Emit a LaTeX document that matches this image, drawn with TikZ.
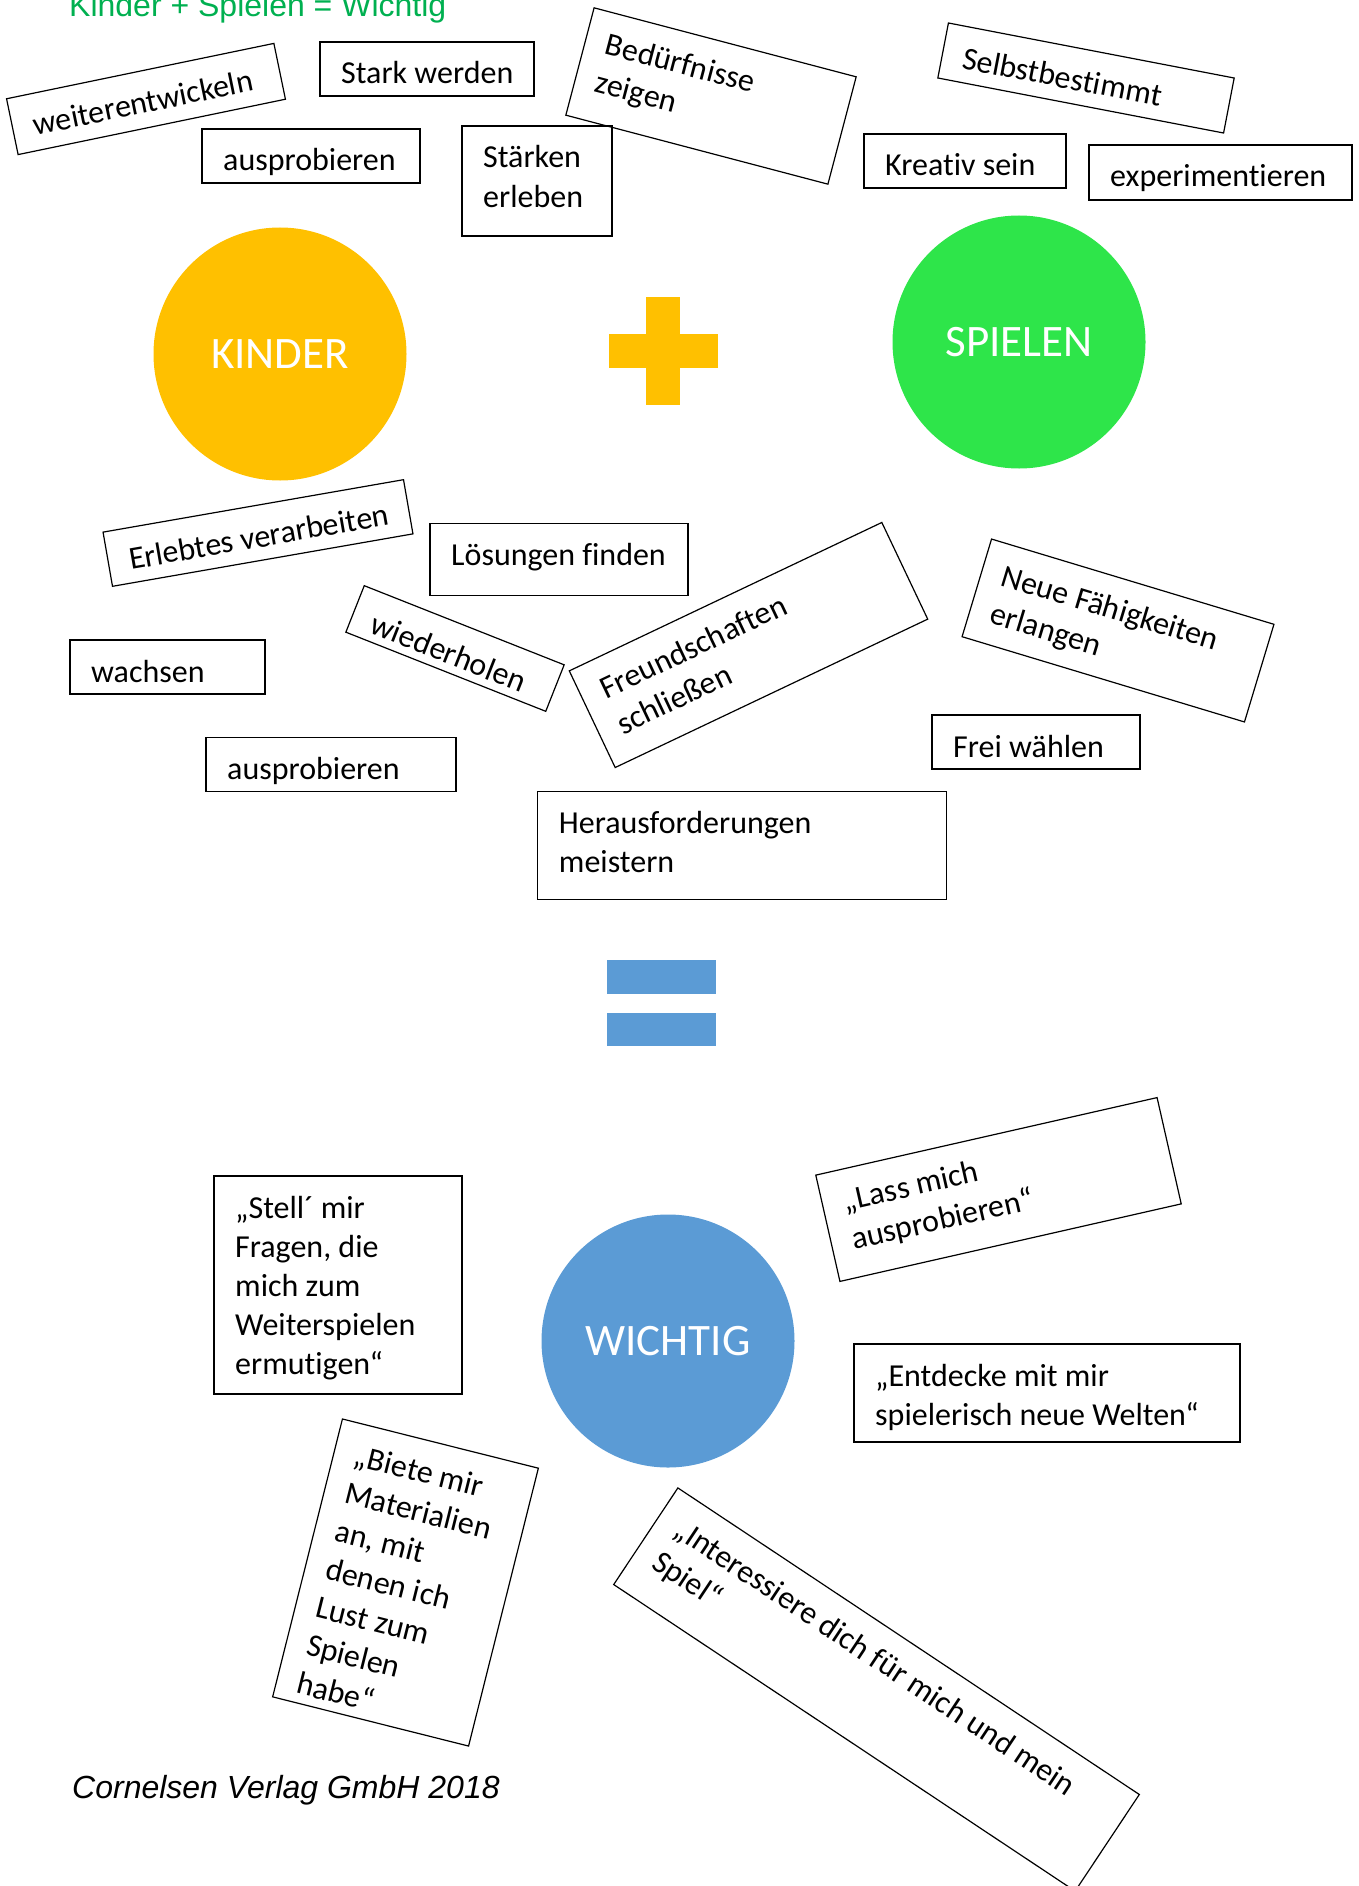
\documentclass[tikz,border=0pt]{standalone}
\usepackage{fontspec}
\setmainfont{Carlito}[Ligatures=TeX, RawFeature={-liga;-clig;-calt;-dlig}]
\newfontfamily\arialfont{Liberation Sans}

\definecolor{kinderorange}{HTML}{FFC000}
\definecolor{spielgreen}{HTML}{2EE54A}
\definecolor{wichtigblue}{HTML}{5B9BD5}
\definecolor{titlegreen}{HTML}{00B050}

\tikzset{
  card/.style={draw, line width=1.2pt, inner sep=0pt},
  cardtext/.style={anchor=base west, inner sep=0pt, font=\fontsize{32}{39.2}\selectfont},
  bubble/.style={circle, minimum size=253pt, inner sep=0pt, text=white, font=\fontsize{45}{54}\selectfont},
  bar/.style={inner sep=0pt, fill=#1}
}

% name, x, y, angle, width, height, lines
\newcommand{\card}[7]{%
  \begin{scope}[shift={(#2,#3)}, rotate=#4, transform shape]
    \node[card, minimum width=#5, minimum height=#6] (#1) at (0,0) {};
    \node[cardtext] (#1-t) at ({-#5/2+21},{-#6/2+42}) {\begin{tabular}[t]{@{}l@{}}#7\end{tabular}};
  \end{scope}}

\begin{document}
\begin{tikzpicture}[x=1pt,y=-1pt]
\useasboundingbox (0,0) rectangle (1358,1886);

\node[anchor=base west, inner sep=0pt, text=titlegreen, font=\arialfont\fontsize{32}{38}\selectfont] (title) at (69,17) {Kinder + Spielen = Wichtig};

\card{weiter}{146}{99}{11.7}{273}{57}{weiterentwickeln}
\card{stark}{427}{69}{0}{214}{54}{Stark werden}
\card{probtop}{311}{156}{0}{218}{54}{ausprobieren}
\card{staerken}{537}{181}{0}{150}{110}{Stärken\\erleben}
\card{beduerf}{711}{96}{-14.75}{271}{111}{Bedürfnisse\\zeigen}
\card{selbst}{1086}{78}{-10.9}{291}{56}{Selbstbestimmt}
\card{kreativ}{965}{161}{0}{202}{54}{Kreativ sein}
\card{experi}{1220.5}{172.5}{0}{263}{55}{experimentieren}

\node[bubble, fill=kinderorange] (kinder) at (280,354) {KINDER};
\node[bubble, fill=spielgreen] (spielen) at (1019,342) {SPIELEN};
\node[bar=kinderorange, minimum width=34, minimum height=108] (plusv) at (663,351) {};
\node[bar=kinderorange, minimum width=109, minimum height=34] (plush) at (663,351) {};

\card{erlebt}{258}{533}{9.9}{305}{55}{Erlebtes verarbeiten}
\card{loesung}{559}{559.5}{0}{258}{72.5}{Lösungen finden}
\card{wieder}{455}{648.5}{-21.6}{215}{50}{wiederholen}
\card{wachsen}{167.5}{667}{0}{195}{54}{wachsen}
\card{probmid}{331}{764.5}{0}{250}{54.5}{ausprobieren}
\card{freund}{748.5}{645}{25.4}{346}{107}{Freundschaften\\schließen}
\card{neue}{1118}{630.5}{-16.8}{295}{102}{Neue Fähigkeiten\\erlangen}
\card{frei}{1036}{742}{0}{208}{54}{Frei wählen}
\card{heraus}{742}{845.5}{0}{408.5}{107.5}{Herausforderungen\\meistern}

\node[bar=wichtigblue, minimum width=109, minimum height=34] (eqtop) at (661.5,977) {};
\node[bar=wichtigblue, minimum width=109, minimum height=33] (eqbot) at (661.5,1029.5) {};

\node[bubble, fill=wichtigblue] (wichtig) at (668,1341) {WICHTIG};

\card{stell}{338}{1285}{0}{248}{218}{„Stell´ mir\\Fragen, die\\mich zum\\Weiterspielen\\ermutigen“}
\card{lass}{998.5}{1189.5}{12.8}{350}{109}{„Lass mich\\ausprobieren“}
\card{entdeck}{1047}{1393}{0}{386}{98}{„Entdecke mit mir\\spielerisch neue Welten“}
\card{biete}{405.5}{1582.5}{-14.1}{202}{286.5}{„Biete mir\\Materialien\\an, mit\\denen ich\\Lust zum\\Spielen\\habe“}
\card{interess}{876.5}{1689.5}{-33.6}{554}{116}{„Interessiere dich für mich und mein\\Spiel“}

\node[anchor=base west, inner sep=0pt, font=\arialfont\itshape\fontsize{32}{38}\selectfont] (verlag) at (72,1798) {Cornelsen Verlag GmbH 2018};
\end{tikzpicture}
\end{document}
